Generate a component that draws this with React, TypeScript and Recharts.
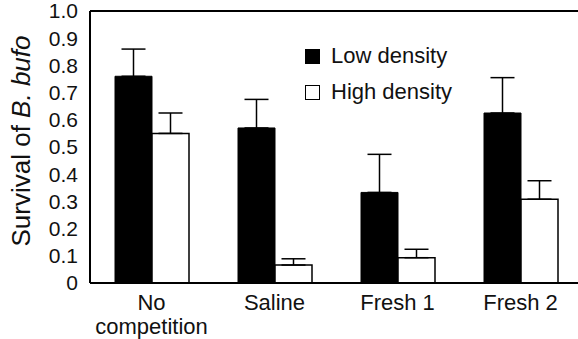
import { BarChart, Bar, XAxis, YAxis, ErrorBar, ReferenceLine } from "recharts";

const categories = ["No competition", "Saline", "Fresh 1", "Fresh 2"];
const lowDensity = [0.76, 0.57, 0.333, 0.625];
const lowDensityErr = [0.1, 0.105, 0.14, 0.13];
const highDensity = [0.55, 0.066, 0.093, 0.308];
const highDensityErr = [0.075, 0.023, 0.031, 0.068];
const yTicks = [0, 0.1, 0.2, 0.3, 0.4, 0.5, 0.6, 0.7, 0.8, 0.9, 1.0];
const legendItems = [
  { label: "Low density", fill: "#000" },
  { label: "High density", fill: "#fff" },
];

const data = categories.map((name, i) => ({
  name,
  low: lowDensity[i],
  lowErr: [0, lowDensityErr[i]],
  high: highDensity[i],
  highErr: [0, highDensityErr[i]],
}));

const FONT = "'Liberation Sans', Arial, sans-serif";

function CategoryTick({ x, y, payload }: any) {
  const words = payload.value === "No competition" ? ["No", "competition"] : [payload.value];
  return (
    <text x={x} y={y} textAnchor="middle" fontSize={22} fontFamily={FONT} fill="#111">
      {words.map((w, i) => (
        <tspan key={w} x={x} dy={i === 0 ? 19 : 24}>
          {w}
        </tspan>
      ))}
    </text>
  );
}

function YLabel({ viewBox }: any) {
  const cx = 21;
  const cy = viewBox.y + viewBox.height / 2 - 6;
  return (
    <text
      x={cx}
      y={cy}
      transform={`rotate(-90, ${cx}, ${cy})`}
      textAnchor="middle"
      dominantBaseline="central"
      fontSize={26}
      fontFamily={FONT}
      fill="#111"
    >
      Survival of <tspan fontStyle="italic">B. bufo</tspan>
    </text>
  );
}

// legend sits inside the plot, so it's drawn as an overlay rather than a recharts Legend
function LegendBox() {
  return (
    <div style={{ position: "absolute", left: 305, top: 38, fontFamily: FONT, fontSize: 22, color: "#111" }}>
      {legendItems.map((r) => (
        <div key={r.label} style={{ display: "flex", alignItems: "center", height: 36 }}>
          <span
            style={{
              display: "inline-block",
              boxSizing: "border-box",
              width: 15,
              height: 15,
              background: r.fill,
              border: "1.5px solid #000",
              marginRight: 11,
            }}
          />
          {r.label}
        </div>
      ))}
    </div>
  );
}

export default function App() {
  return (
    <div style={{ position: "absolute", left: 0, top: 0, width: 578, height: 339, overflow: "hidden", background: "#fff" }}>
      <BarChart
        width={590}
        height={339}
        data={data}
        margin={{ top: 11, right: 8, bottom: 0, left: 0 }}
        barSize={37}
        barGap={0}
      >
        <XAxis
          dataKey="name"
          tick={<CategoryTick />}
          tickLine={false}
          axisLine={{ stroke: "#000", strokeWidth: 2 }}
          height={56}
          interval={0}
        />
        <YAxis
          domain={[0, 1]}
          ticks={yTicks}
          interval={0}
          tickFormatter={(v: number) => (v === 0 ? "0" : v.toFixed(1))}
          tickLine={false}
          axisLine={{ stroke: "#000", strokeWidth: 2 }}
          tick={{ fontSize: 21, fontFamily: FONT, fill: "#111" }}
          tickMargin={6}
          width={90}
          label={<YLabel />}
        />
        <ReferenceLine y={1} stroke="#000" strokeWidth={2} />
        <Bar dataKey="low" fill="#000" stroke="#000" strokeWidth={1} isAnimationActive={false}>
          <ErrorBar dataKey="lowErr" width={12} stroke="#000" strokeWidth={1.5} isAnimationActive={false} />
        </Bar>
        <Bar dataKey="high" fill="#fff" stroke="#000" strokeWidth={1.5} isAnimationActive={false}>
          <ErrorBar dataKey="highErr" width={12} stroke="#000" strokeWidth={1.5} isAnimationActive={false} />
        </Bar>
      </BarChart>
      <LegendBox />
    </div>
  );
}
